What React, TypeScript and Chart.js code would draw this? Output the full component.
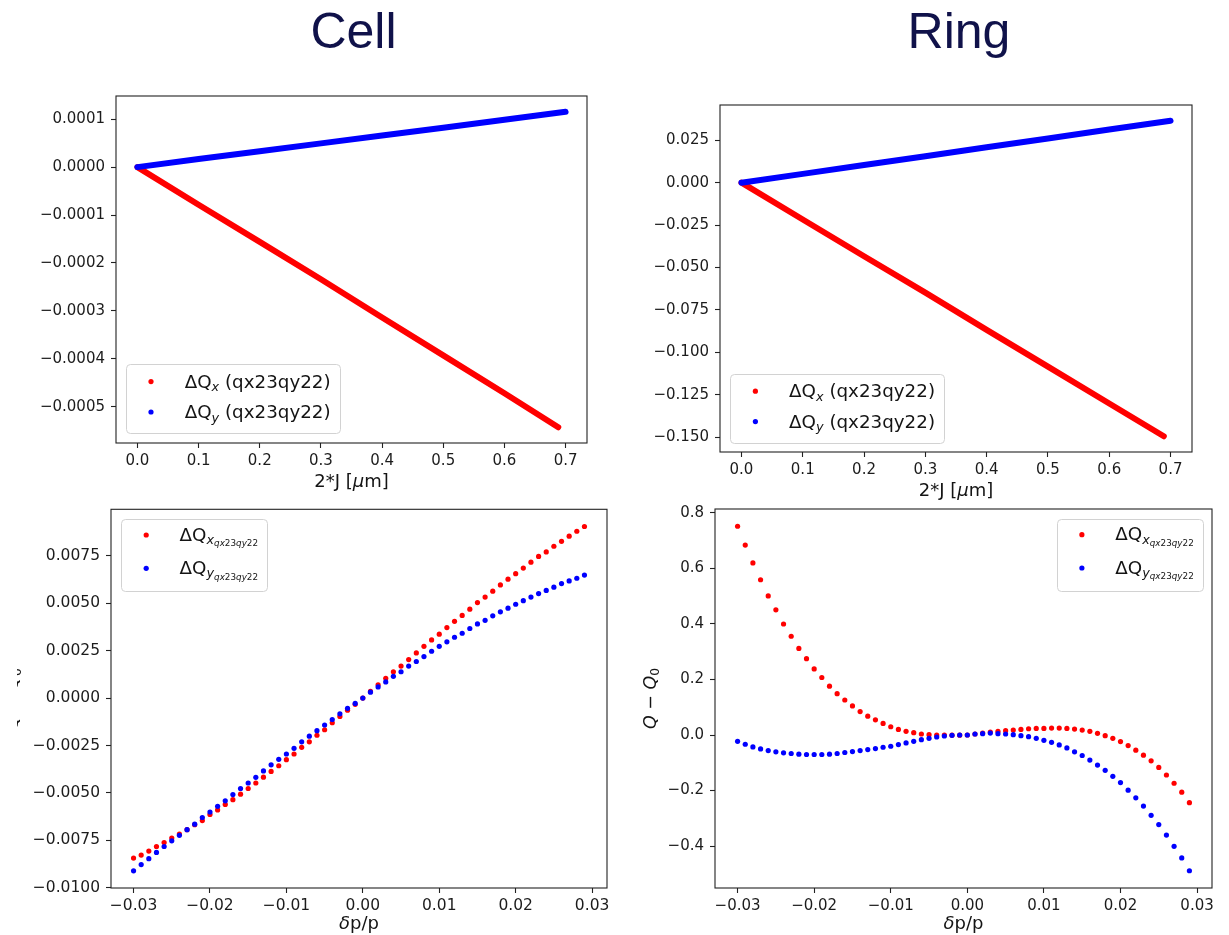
import { useEffect, useRef } from "react";
import { Chart, registerables } from "chart.js";

Chart.register(...registerables);

// ---------- amplitude detuning: action 2J [um] vs tune shift ----------
const cellJx = [0.0, 0.1, 0.2, 0.3, 0.4, 0.5, 0.6, 0.688];
const cellDqxAmp = [0.0, -0.0000785, -0.000156, -0.000234, -0.000314, -0.000393, -0.000472, -0.000543];
const cellJy = [0.0, 0.1, 0.2, 0.3, 0.4, 0.5, 0.6, 0.7];
const cellDqyAmp = [0.0, 0.0000168, 0.000033, 0.0000495, 0.000066, 0.000082, 0.0000988, 0.0001155];

const ringJx = [0.0, 0.1, 0.2, 0.3, 0.4, 0.5, 0.6, 0.689];
const ringDqxAmp = [0.0, -0.0217, -0.0434, -0.0648, -0.0868, -0.1085, -0.1302, -0.1495];
const ringJy = [0.0, 0.1, 0.2, 0.3, 0.4, 0.5, 0.6, 0.7];
const ringDqyAmp = [0.0, 0.0052, 0.0104, 0.0156, 0.0209, 0.0261, 0.0313, 0.0365];

// ---------- chromaticity scan: momentum deviation dp/p ----------
const dpp = [
  -0.030, -0.029, -0.028, -0.027, -0.026, -0.025, -0.024, -0.023, -0.022, -0.021,
  -0.020, -0.019, -0.018, -0.017, -0.016, -0.015, -0.014, -0.013, -0.012, -0.011,
  -0.010, -0.009, -0.008, -0.007, -0.006, -0.005, -0.004, -0.003, -0.002, -0.001,
  0.000, 0.001, 0.002, 0.003, 0.004, 0.005, 0.006, 0.007, 0.008, 0.009,
  0.010, 0.011, 0.012, 0.013, 0.014, 0.015, 0.016, 0.017, 0.018, 0.019,
  0.020, 0.021, 0.022, 0.023, 0.024, 0.025, 0.026, 0.027, 0.028, 0.029,
];

const cellDqxChrom = [
  -0.00844, -0.00828, -0.00807, -0.00783, -0.00762, -0.00738, -0.00717, -0.00694, -0.00668, -0.00646,
  -0.00614, -0.00590, -0.00561, -0.00536, -0.00507, -0.00477, -0.00448, -0.00417, -0.00387, -0.00357,
  -0.00325, -0.00295, -0.00260, -0.00231, -0.00196, -0.00167, -0.00130, -0.00097, -0.00064, -0.00033,
  0.00000, 0.00035, 0.00070, 0.00104, 0.00139, 0.00169, 0.00203, 0.00238, 0.00273, 0.00307,
  0.00337, 0.00372, 0.00405, 0.00436, 0.00469, 0.00504, 0.00533, 0.00564, 0.00597, 0.00627,
  0.00656, 0.00686, 0.00717, 0.00747, 0.00771, 0.00801, 0.00827, 0.00854, 0.00880, 0.00905,
];
const cellDqyChrom = [
  -0.00911, -0.00878, -0.00847, -0.00814, -0.00783, -0.00753, -0.00724, -0.00694, -0.00665, -0.00630,
  -0.00601, -0.00571, -0.00542, -0.00509, -0.00477, -0.00448, -0.00418, -0.00384, -0.00352, -0.00323,
  -0.00295, -0.00265, -0.00231, -0.00201, -0.00172, -0.00142, -0.00113, -0.00083, -0.00054, -0.00028,
  0.00000, 0.00031, 0.00059, 0.00085, 0.00115, 0.00139, 0.00169, 0.00193, 0.00219, 0.00247,
  0.00273, 0.00297, 0.00321, 0.00342, 0.00367, 0.00391, 0.00410, 0.00434, 0.00455, 0.00474,
  0.00495, 0.00514, 0.00533, 0.00551, 0.00568, 0.00585, 0.00604, 0.00618, 0.00632, 0.00649,
];

const ringDqxChrom = [
  0.7517, 0.6839, 0.6197, 0.5590, 0.5007, 0.4508, 0.3996, 0.3556, 0.3116, 0.2748,
  0.2379, 0.2070, 0.1760, 0.1487, 0.1261, 0.1047, 0.0844, 0.0678, 0.0547, 0.0416,
  0.0297, 0.0202, 0.0131, 0.0083, 0.0036, 0.0012, 0.0000, 0.0000, -0.0006, -0.0006,
  0.0000, 0.0036, 0.0071, 0.0107, 0.0131, 0.0155, 0.0178, 0.0202, 0.0226, 0.0238,
  0.0238, 0.0250, 0.0250, 0.0238, 0.0214, 0.0178, 0.0131, 0.0059, -0.0024, -0.0119,
  -0.0238, -0.0381, -0.0547, -0.0726, -0.0928, -0.1166, -0.1439, -0.1736, -0.2058, -0.2438,
];
const ringDqyChrom = [
  -0.0226, -0.0333, -0.0428, -0.0500, -0.0559, -0.0607, -0.0642, -0.0666, -0.0690, -0.0702,
  -0.0702, -0.0702, -0.0690, -0.0666, -0.0630, -0.0595, -0.0559, -0.0523, -0.0488, -0.0440,
  -0.0404, -0.0345, -0.0285, -0.0226, -0.0167, -0.0119, -0.0071, -0.0036, -0.0012, 0.0000,
  0.0000, 0.0036, 0.0048, 0.0071, 0.0048, 0.0036, 0.0012, -0.0024, -0.0059, -0.0119,
  -0.0190, -0.0262, -0.0357, -0.0464, -0.0607, -0.0737, -0.0904, -0.1082, -0.1273, -0.1487,
  -0.1713, -0.1986, -0.2260, -0.2557, -0.2890, -0.3223, -0.3604, -0.4008, -0.4425, -0.4888,
];

// ---------- tick values and their labels ----------
const M = "\u2212";
const jTicks = [0.0, 0.1, 0.2, 0.3, 0.4, 0.5, 0.6, 0.7];
const jTickLabels = ["0.0", "0.1", "0.2", "0.3", "0.4", "0.5", "0.6", "0.7"];
const dppTicks = [-0.03, -0.02, -0.01, 0.0, 0.01, 0.02, 0.03];
const dppTickLabels = [M + "0.03", M + "0.02", M + "0.01", "0.00", "0.01", "0.02", "0.03"];
const cellAmpTicks = [0.0001, 0.0, -0.0001, -0.0002, -0.0003, -0.0004, -0.0005];
const cellAmpTickLabels = ["0.0001", "0.0000", M + "0.0001", M + "0.0002", M + "0.0003", M + "0.0004", M + "0.0005"];
const ringAmpTicks = [0.025, 0.0, -0.025, -0.05, -0.075, -0.1, -0.125, -0.15];
const ringAmpTickLabels = ["0.025", "0.000", M + "0.025", M + "0.050", M + "0.075", M + "0.100", M + "0.125", M + "0.150"];
const cellChromTicks = [0.0075, 0.005, 0.0025, 0.0, -0.0025, -0.005, -0.0075, -0.01];
const cellChromTickLabels = ["0.0075", "0.0050", "0.0025", "0.0000", M + "0.0025", M + "0.0050", M + "0.0075", M + "0.0100"];
const ringChromTicks = [0.8, 0.6, 0.4, 0.2, 0.0, -0.2, -0.4];
const ringChromTickLabels = ["0.8", "0.6", "0.4", "0.2", "0.0", M + "0.2", M + "0.4"];

const RED = "#ff0000";
const BLUE = "#0000ff";

// ---------- rich text helpers (sub/superscripts, italics) ----------
type Seg = { t: string; size: number; italic?: boolean; dy?: number };
const FAMILY = '"DejaVu Sans", sans-serif';
const segFont = (s: Seg) => `${s.italic ? "italic " : ""}${s.size}px ${FAMILY}`;

function runWidth(ctx: CanvasRenderingContext2D, run: Seg[]) {
  let w = 0;
  for (const s of run) {
    ctx.font = segFont(s);
    w += ctx.measureText(s.t).width;
  }
  return w;
}

function drawRun(ctx: CanvasRenderingContext2D, run: Seg[], x: number, y: number, align: "left" | "center") {
  let cx = align === "center" ? x - runWidth(ctx, run) / 2 : x;
  ctx.textAlign = "left";
  ctx.textBaseline = "alphabetic";
  for (const s of run) {
    ctx.font = segFont(s);
    ctx.fillText(s.t, cx, y + (s.dy || 0));
    cx += ctx.measureText(s.t).width;
  }
}

const LG = 18.3;
const ampLegend = (axis: string): Seg[] => [
  { t: "\u0394Q", size: LG },
  { t: axis, size: 12.8, italic: true, dy: 3.5 },
  { t: " (qx23qy22)", size: LG },
];
const chromLegend = (axis: string): Seg[] => [
  { t: "\u0394Q", size: LG },
  { t: axis, size: 12.8, italic: true, dy: 3.4 },
  { t: "qx", size: 8.8, italic: true, dy: 5.8 },
  { t: "23", size: 8.8, dy: 5.8 },
  { t: "qy", size: 8.8, italic: true, dy: 5.8 },
  { t: "22", size: 8.8, dy: 5.8 },
];
const jTitle: Seg[] = [
  { t: "2*J [", size: 18 },
  { t: "\u03bc", size: 18, italic: true },
  { t: "m]", size: 18 },
];
const dppTitle: Seg[] = [
  { t: "\u03b4", size: 18, italic: true },
  { t: "p/p", size: 18 },
];
const qTitle: Seg[] = [
  { t: "Q", size: 17.5, italic: true },
  { t: " \u2212 ", size: 17.5 },
  { t: "Q", size: 17.5, italic: true },
  { t: "0", size: 12.3, dy: 3.2 },
];

function autoLimits(arrays: number[][]): [number, number] {
  const all = arrays.flat();
  const lo = Math.min(...all);
  const hi = Math.max(...all);
  const m = 0.05 * (hi - lo);
  return [lo - m, hi + m];
}

type Series = { x: number[]; y: number[]; color: string; line: boolean; order: number };
type Rect = { l: number; t: number; r: number; b: number };
type Legend = {
  corner: "tl" | "tr" | "bl";
  dx: number; dy: number; w: number; h: number;
  rows: number[]; markerDx: number; textDx: number; baseDy: number;
  labels: Seg[][]; colors: string[];
};
type Panel = {
  key: string;
  box: Rect; // plot frame, page pixels
  canvas: Rect; // canvas extent, page pixels
  series: Series[];
  xTicks: number[]; xTickLabels: string[];
  yTicks: number[]; yTickLabels: string[];
  tickSize: number;
  xTitle: Seg[]; xTitleDy: number;
  yTitle?: { run: Seg[]; x: number };
  legend: Legend;
};

function axisOptions(kind: "x" | "y", lim: [number, number], ticks: number[], labels: string[], extent: number, fontSize: number) {
  return {
    type: "linear",
    position: kind === "x" ? "bottom" : "left",
    min: lim[0],
    max: lim[1],
    afterBuildTicks: (scale: any) => {
      scale.ticks = ticks.map((v) => ({ value: v }));
    },
    afterFit: (scale: any) => {
      if (kind === "x") scale.height = extent;
      else scale.width = extent;
    },
    ticks: {
      autoSkip: false,
      maxRotation: 0,
      minRotation: 0,
      padding: kind === "x" ? 4 : 6,
      color: "#1c1c1c",
      font: { family: "DejaVu Sans", size: fontSize },
      callback: (_v: any, i: number) => labels[i],
    },
    grid: {
      drawOnChartArea: false,
      drawTicks: true,
      tickLength: 5,
      tickWidth: 1.1,
      tickColor: "#222222",
    },
    border: { display: false },
  };
}

function decorPlugin(p: Panel) {
  return {
    id: "decor-" + p.key,
    afterDraw(chart: any) {
      const ctx: CanvasRenderingContext2D = chart.ctx;
      const a = chart.chartArea;
      ctx.save();
      // frame (all four spines)
      ctx.strokeStyle = "#222222";
      ctx.lineWidth = 1.1;
      ctx.strokeRect(a.left, a.top, a.right - a.left, a.bottom - a.top);

      // axis titles
      ctx.fillStyle = "#141414";
      drawRun(ctx, p.xTitle, (a.left + a.right) / 2, a.bottom + p.xTitleDy, "center");
      if (p.yTitle) {
        ctx.save();
        ctx.translate(p.yTitle.x - p.canvas.l, (a.top + a.bottom) / 2);
        ctx.rotate(-Math.PI / 2);
        drawRun(ctx, p.yTitle.run, 0, 0, "center");
        ctx.restore();
      }

      // legend
      const L = p.legend;
      const bx = L.corner === "tr" ? a.right - L.dx - L.w : a.left + L.dx;
      const by = L.corner === "bl" ? a.bottom - L.dy - L.h : a.top + L.dy;
      ctx.beginPath();
      ctx.roundRect(Math.round(bx) + 0.5, Math.round(by) + 0.5, Math.round(L.w), Math.round(L.h), 4);
      ctx.fillStyle = "rgba(255,255,255,0.8)";
      ctx.fill();
      ctx.strokeStyle = "#d2d2d2";
      ctx.lineWidth = 1;
      ctx.stroke();
      L.rows.forEach((ry, i) => {
        ctx.beginPath();
        ctx.arc(bx + L.markerDx, by + ry, 2.6, 0, Math.PI * 2);
        ctx.fillStyle = L.colors[i];
        ctx.fill();
        ctx.fillStyle = "#141414";
        drawRun(ctx, L.labels[i], bx + L.textDx, by + ry + L.baseDy, "left");
      });
      ctx.restore();
    },
  };
}

function buildConfig(p: Panel): any {
  const xLim = autoLimits(p.series.map((s) => s.x));
  const yLim = autoLimits(p.series.map((s) => s.y));
  return {
    type: "scatter",
    data: {
      datasets: p.series.map((s) => ({
        data: s.x.map((x, k) => ({ x, y: s.y[k] })),
        backgroundColor: s.color,
        borderColor: s.color,
        showLine: s.line,
        borderWidth: s.line ? 6 : 0,
        borderCapStyle: "round",
        borderJoinStyle: "round",
        pointRadius: s.line ? 0 : 2.6,
        pointHoverRadius: 0,
        order: s.order,
      })),
    },
    options: {
      responsive: false,
      animation: false,
      devicePixelRatio: 1,
      events: [],
      layout: {
        padding: { left: 0, bottom: 0, top: p.box.t - p.canvas.t, right: p.canvas.r - p.box.r },
      },
      plugins: { legend: { display: false }, tooltip: { enabled: false } },
      scales: {
        x: axisOptions("x", xLim, p.xTicks, p.xTickLabels, p.canvas.b - p.box.b, p.tickSize),
        y: axisOptions("y", yLim, p.yTicks, p.yTickLabels, p.box.l - p.canvas.l, p.tickSize),
      },
    },
    plugins: [decorPlugin(p)],
  };
}

const ampLegendLayout = {
  corner: "bl" as const, w: 214, h: 68.5, rows: [17.4, 47.8], markerDx: 25, textDx: 58.7, baseDy: 6,
  labels: [ampLegend("x"), ampLegend("y")], colors: [RED, BLUE],
};
const chromLegendLayout = {
  w: 146, h: 71.6, rows: [16, 49.3], markerDx: 25.2, textDx: 58.6, baseDy: 5.5,
  labels: [chromLegend("x"), chromLegend("y")], colors: [RED, BLUE],
};

const panels: Panel[] = [
  {
    key: "cell-amp",
    box: { l: 116, t: 93, r: 587, b: 443 },
    canvas: { l: 10, t: 81, r: 607, b: 500 },
    series: [
      { x: cellJx, y: cellDqxAmp, color: RED, line: true, order: 1 },
      { x: cellJy, y: cellDqyAmp, color: BLUE, line: true, order: 0 },
    ],
    xTicks: jTicks, xTickLabels: jTickLabels,
    yTicks: cellAmpTicks, yTickLabels: cellAmpTickLabels,
    tickSize: 15,
    xTitle: jTitle, xTitleDy: 44,
    legend: { ...ampLegendLayout, dx: 10, dy: 10.3 },
  },
  {
    key: "ring-amp",
    box: { l: 720, t: 102, r: 1192, b: 452 },
    canvas: { l: 620, t: 90, r: 1212, b: 506 },
    series: [
      { x: ringJx, y: ringDqxAmp, color: RED, line: true, order: 1 },
      { x: ringJy, y: ringDqyAmp, color: BLUE, line: true, order: 0 },
    ],
    xTicks: jTicks, xTickLabels: jTickLabels,
    yTicks: ringAmpTicks, yTickLabels: ringAmpTickLabels,
    tickSize: 15,
    xTitle: jTitle, xTitleDy: 44,
    legend: { ...ampLegendLayout, dx: 10.4, dy: 9.7 },
  },
  {
    key: "cell-chrom",
    box: { l: 111, t: 506, r: 607, b: 888 },
    canvas: { l: 17, t: 494, r: 627, b: 935 },
    series: [
      { x: dpp, y: cellDqxChrom, color: RED, line: false, order: 1 },
      { x: dpp, y: cellDqyChrom, color: BLUE, line: false, order: 0 },
    ],
    xTicks: dppTicks, xTickLabels: dppTickLabels,
    yTicks: cellChromTicks, yTickLabels: cellChromTickLabels,
    tickSize: 15.5,
    xTitle: dppTitle, xTitleDy: 41,
    yTitle: { run: qTitle, x: 17.5 },
    legend: { ...chromLegendLayout, corner: "tl", dx: 10, dy: 9.7 },
  },
  {
    key: "ring-chrom",
    box: { l: 715, t: 506, r: 1212, b: 888 },
    canvas: { l: 630, t: 494, r: 1229, b: 935 },
    series: [
      { x: dpp, y: ringDqxChrom, color: RED, line: false, order: 1 },
      { x: dpp, y: ringDqyChrom, color: BLUE, line: false, order: 0 },
    ],
    xTicks: dppTicks, xTickLabels: dppTickLabels,
    yTicks: ringChromTicks, yTickLabels: ringChromTickLabels,
    tickSize: 15,
    xTitle: dppTitle, xTitleDy: 41,
    yTitle: { run: qTitle, x: 656 },
    legend: { ...chromLegendLayout, corner: "tr", dx: 9.3, dy: 9.7 },
  },
];

function PlotPanel({ panel }: { panel: Panel }) {
  const ref = useRef<HTMLCanvasElement>(null);
  useEffect(() => {
    const chart = new Chart(ref.current as HTMLCanvasElement, buildConfig(panel));
    return () => chart.destroy();
  }, [panel]);
  const w = panel.canvas.r - panel.canvas.l;
  const h = panel.canvas.b - panel.canvas.t;
  return (
    <canvas
      ref={ref}
      width={w}
      height={h}
      style={{ position: "absolute", left: panel.canvas.l, top: panel.canvas.t, width: w, height: h }}
    />
  );
}

const headingStyle = {
  position: "absolute" as const,
  top: 6,
  width: 200,
  textAlign: "center" as const,
  fontFamily: '"Liberation Sans", Arial, sans-serif',
  fontSize: 50,
  lineHeight: "50px",
  color: "#10124a",
};

export default function App() {
  return (
    <div style={{ position: "absolute", left: 0, top: 0, width: 1229, height: 935, background: "#ffffff", overflow: "hidden" }}>
      <div style={{ ...headingStyle, left: 253.5 }}>Cell</div>
      <div style={{ ...headingStyle, left: 859 }}>Ring</div>
      {panels.map((p) => (
        <PlotPanel key={p.key} panel={p} />
      ))}
    </div>
  );
}
